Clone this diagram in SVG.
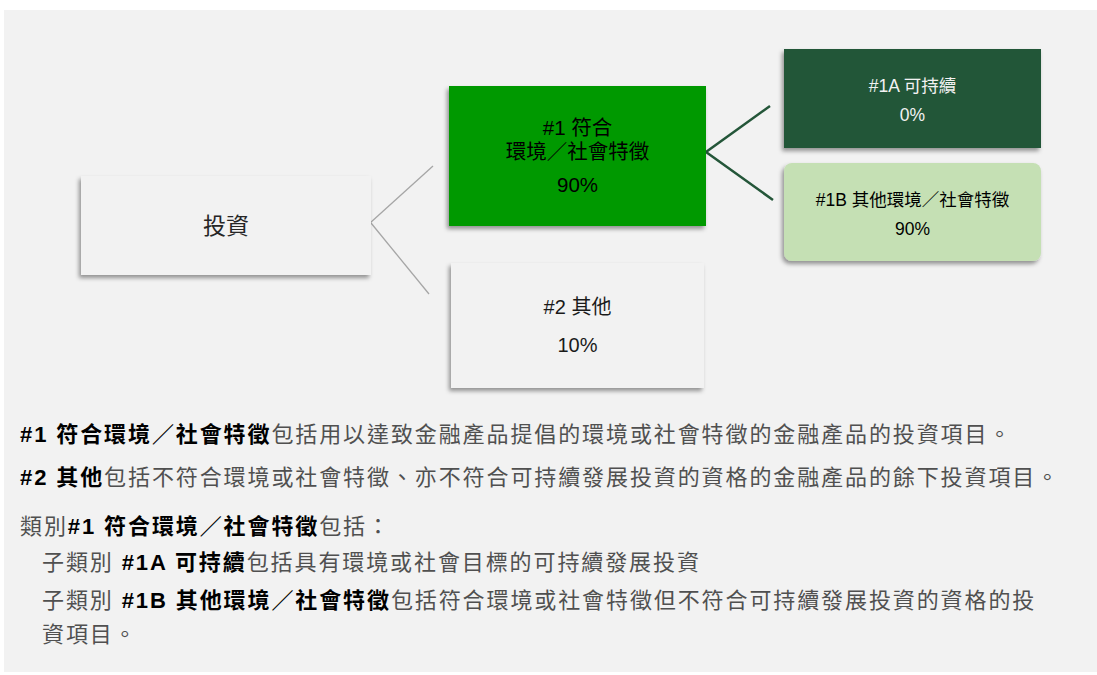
<svg xmlns="http://www.w3.org/2000/svg" width="1097" height="675" viewBox="0 0 1097 675">
  <defs>
    <filter id="sh" x="-10%" y="-10%" width="120%" height="130%">
      <feDropShadow dx="-2" dy="3" stdDeviation="2" flood-color="#000" flood-opacity="0.4"/>
    </filter>
  </defs>
  <style>
    text { font-family: "Liberation Sans", "Noto Sans CJK TC", sans-serif; }
    .c { text-anchor: middle; }
    .body { font-size: 22px; fill: #505050; letter-spacing: 1.9px; }
    .b { font-weight: bold; fill: #000; }
    .gray { stroke: #a6a6a6; stroke-width: 1.3; fill: none; }
    .dg { stroke: #245639; stroke-width: 2.5; fill: none; }
  </style>
  <rect x="4" y="10" width="1093" height="662" fill="#f2f2f2"/>

  <g id="connectors">
    <line class="gray" x1="370" y1="223" x2="433" y2="166"/>
    <line class="gray" x1="371" y1="223" x2="429" y2="294"/>
    <polyline class="dg" points="770,106 706,152 773,200"/>
  </g>

  <g id="node-invest">
    <rect x="81" y="176" width="290" height="99" fill="#f2f2f2" filter="url(#sh)"/>
    <text class="c" x="226" y="234" font-size="23" fill="#262626">投資</text>
  </g>

  <g id="node-1">
    <rect x="449" y="86" width="257" height="140" fill="#009900" filter="url(#sh)"/>
    <text class="c" x="577.5" y="134.5" font-size="20.5" fill="#000">#1 符合</text>
    <text class="c" x="577.5" y="158.5" font-size="20.5" fill="#000">環境／社會特徵</text>
    <text class="c" x="577.5" y="191.5" font-size="20.5" fill="#000">90%</text>
  </g>

  <g id="node-1a">
    <rect x="784" y="49" width="257" height="99" fill="#245639" filter="url(#sh)"/>
    <text class="c" x="912.5" y="91.5" font-size="17.5" fill="#f2f2f2">#1A 可持續</text>
    <text class="c" x="912.5" y="121" font-size="17.5" fill="#f2f2f2">0%</text>
  </g>

  <g id="node-1b">
    <rect x="784" y="163" width="257" height="98" rx="8" ry="8" fill="#c5e0b4" filter="url(#sh)"/>
    <text class="c" x="912.5" y="205.5" font-size="17.5" fill="#000">#1B 其他環境／社會特徵</text>
    <text class="c" x="912.5" y="234.5" font-size="17.5" fill="#000">90%</text>
  </g>

  <g id="node-2">
    <rect x="451" y="263" width="253" height="125" fill="#f2f2f2" filter="url(#sh)"/>
    <text class="c" x="577.5" y="314" font-size="20" fill="#1a1a1a">#2 其他</text>
    <text class="c" x="577.5" y="352" font-size="20" fill="#1a1a1a">10%</text>
  </g>

  <g id="notes">
    <text class="body" x="20" y="442"><tspan class="b">#1 符合環境／社會特徵</tspan>包括用以達致金融產品提倡的環境或社會特徵的金融產品的投資項目。</text>
    <text class="body" x="20" y="485"><tspan class="b">#2 其他</tspan>包括不符合環境或社會特徵、亦不符合可持續發展投資的資格的金融產品的餘下投資項目。</text>
    <text class="body" x="20" y="534">類別<tspan class="b">#1 符合環境／社會特徵</tspan>包括：</text>
    <text class="body" x="42" y="570">子類別 <tspan class="b">#1A 可持續</tspan>包括具有環境或社會目標的可持續發展投資</text>
    <text class="body" x="42" y="608">子類別 <tspan class="b">#1B 其他環境／社會特徵</tspan>包括符合環境或社會特徵但不符合可持續發展投資的資格的投</text>
    <text class="body" x="42" y="642">資項目。</text>
  </g>
</svg>
